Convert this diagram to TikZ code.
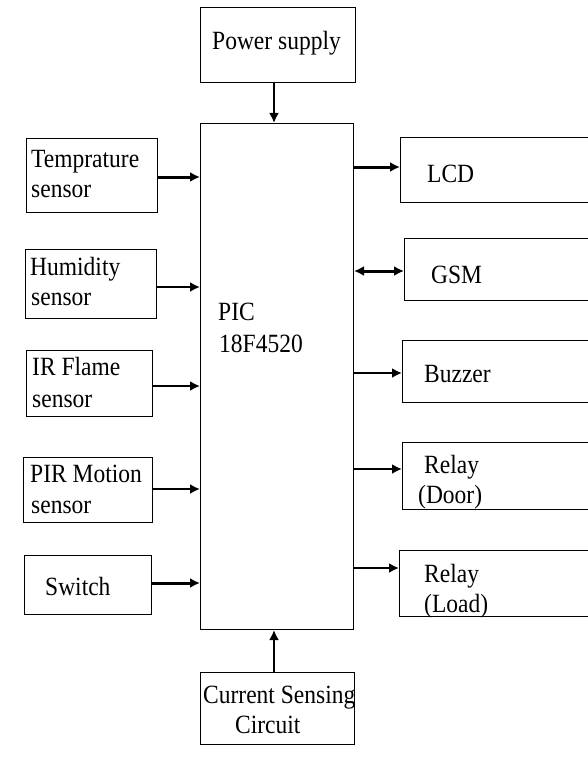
\documentclass[tikz,border=0pt]{standalone}
\usepackage{fontspec}
\setmainfont{Liberation Serif}
\usetikzlibrary{arrows.meta}
\newcommand\stxt[1]{\scalebox{1}[1.12]{#1}}
\begin{document}
\begin{tikzpicture}[x=1pt,y=-1pt,
  box/.style={draw=black, line width=1pt, inner sep=0pt, anchor=north west},
  lbl/.style={anchor=base west, inner sep=0pt, font=\fontsize{23.5}{28}\selectfont},
  thin arrow/.style={line width=2pt, -{Latex[length=10pt,width=10pt]}},
  thick arrow/.style={line width=3pt, -{Latex[length=10pt,width=10pt]}},
  dbl arrow/.style={line width=3pt, {Latex[length=10pt,width=10pt]}-{Latex[length=10pt,width=10pt]}}]
\useasboundingbox (0,0) rectangle (587,757);
% boxes
\node[box, minimum width=155pt, minimum height=75pt] (pwr) at (200,7) {};
\node[box, minimum width=153pt, minimum height=506pt] (pic) at (200,123) {};
\node[box, minimum width=131pt, minimum height=74pt] (temp) at (26,138) {};
\node[box, minimum width=131pt, minimum height=69pt] (hum) at (25,249) {};
\node[box, minimum width=126pt, minimum height=66pt] (ir) at (26,350) {};
\node[box, minimum width=129pt, minimum height=65pt] (pir) at (23,457) {};
\node[box, minimum width=127pt, minimum height=59pt] (sw) at (24,555) {};
\node[box, minimum width=154pt, minimum height=72pt] (cur) at (200,672) {};
\node[box, minimum width=220pt, minimum height=65pt] (lcd) at (400,137) {};
\node[box, minimum width=220pt, minimum height=62pt] (gsm) at (404,238) {};
\node[box, minimum width=220pt, minimum height=62pt] (buz) at (402,340) {};
\node[box, minimum width=220pt, minimum height=67pt] (rdoor) at (402,442) {};
\node[box, minimum width=220pt, minimum height=66pt] (rload) at (399,550) {};
% labels
\node[lbl] (tpwr) at (212,50) {\stxt{Power supply}};
\node[lbl] (tpic1) at (218,320) {\stxt{PIC}};
\node[lbl] (tpic2) at (219,352) {\stxt{18F4520}};
\node[lbl] (ttemp1) at (31,167) {\stxt{Temprature}};
\node[lbl] (ttemp2) at (31,197) {\stxt{sensor}};
\node[lbl] (thum1) at (30,275) {\stxt{Humidity}};
\node[lbl] (thum2) at (31,305) {\stxt{sensor}};
\node[lbl] (tir1) at (32,375) {\stxt{IR Flame}};
\node[lbl] (tir2) at (32,407) {\stxt{sensor}};
\node[lbl] (tpir1) at (30,482) {\stxt{PIR Motion}};
\node[lbl] (tpir2) at (31,513) {\stxt{sensor}};
\node[lbl] (tsw) at (45,595) {\stxt{Switch}};
\node[lbl] (tcur1) at (203,703) {\stxt{Current Sensing}};
\node[lbl] (tcur2) at (235,733) {\stxt{Circuit}};
\node[lbl] (tlcd) at (427,182) {\stxt{LCD}};
\node[lbl] (tgsm) at (431,283) {\stxt{GSM}};
\node[lbl] (tbuz) at (424,382) {\stxt{Buzzer}};
\node[lbl] (trd1) at (424,473) {\stxt{Relay}};
\node[lbl] (trd2) at (418,503) {\stxt{(Door)}};
\node[lbl] (trl1) at (424,582) {\stxt{Relay}};
\node[lbl] (trl2) at (424,612) {\stxt{(Load)}};
% connectors
\draw[thin arrow, line width=2.5pt] (pwr.south -| 274,0) -- (pic.north -| 274,0);
\draw[thin arrow, line width=2.5pt] (cur.north -| 274,0) -- (pic.south -| 274,0);
\draw[thick arrow] (temp.east |- 0,177) -- (pic.west |- 0,177);
\draw[thin arrow] (hum.east |- 0,287) -- (pic.west |- 0,287);
\draw[thin arrow] (ir.east |- 0,386) -- (pic.west |- 0,386);
\draw[thin arrow] (pir.east |- 0,489) -- (pic.west |- 0,489);
\draw[thick arrow] (sw.east |- 0,583) -- (pic.west |- 0,583);
\draw[thick arrow] (pic.east |- 0,167) -- (lcd.west |- 0,167);
\draw[dbl arrow] (pic.east |- 0,271) -- (gsm.west |- 0,271);
\draw[thin arrow] (pic.east |- 0,373) -- (buz.west |- 0,373);
\draw[thin arrow] (pic.east |- 0,469) -- (rdoor.west |- 0,469);
\draw[thin arrow] (pic.east |- 0,568) -- (rload.west |- 0,568);
\end{tikzpicture}
\end{document}
